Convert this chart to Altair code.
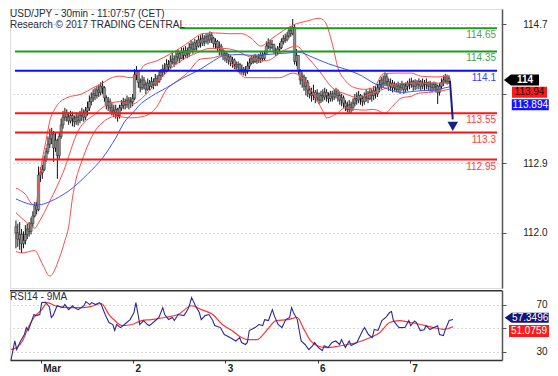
import altair as alt
import pandas as pd

FONT = "Liberation Sans"

# ---------------- values ----------------
# 30-min bars, index 0 = first bar on the left (Feb 28 afternoon)
bar_close = [
    112.00, 111.92, 111.98, 111.86, 111.90, 111.98, 112.05, 112.02, 112.12, 112.22,
    112.35, 112.30, 112.75, 112.78, 112.82, 112.95, 113.05, 113.15, 113.22, 113.28,
    113.10, 113.20, 113.00, 113.25, 113.40, 113.50, 113.55, 113.50, 113.45, 113.52,
    113.48, 113.44, 113.50, 113.46, 113.52, 113.55, 113.50, 113.58, 113.62, 113.70,
    113.75, 113.80, 113.78, 113.85, 113.82, 113.90, 113.88, 113.75, 113.65, 113.70,
    113.62, 113.58, 113.55, 113.60, 113.52, 113.62, 113.65, 113.70, 113.66, 113.72,
    113.68, 113.70, 113.74, 114.05, 114.10, 113.95, 113.88, 113.98, 113.92, 113.86,
    113.94, 113.90, 113.96, 113.92, 114.00, 113.96, 114.04, 114.08, 114.12, 114.10,
    114.18, 114.15, 114.22, 114.25, 114.20, 114.28, 114.32, 114.26, 114.34, 114.30,
    114.36, 114.32, 114.40, 114.44, 114.38, 114.46, 114.42, 114.50, 114.46, 114.52,
    114.48, 114.54, 114.50, 114.56, 114.52, 114.45, 114.48, 114.40, 114.42, 114.36,
    114.30, 114.32, 114.25, 114.28, 114.22, 114.24, 114.18, 114.15, 114.18, 114.10,
    114.12, 114.08, 114.10, 114.16, 114.20, 114.26, 114.22, 114.28, 114.24, 114.26,
    114.30, 114.26, 114.32, 114.42, 114.46, 114.40, 114.44, 114.36, 114.34, 114.38,
    114.40, 114.48, 114.52, 114.50, 114.55, 114.62, 114.58, 114.66, 114.22, 114.30,
    114.10, 113.98, 114.02, 113.90, 113.95, 113.85, 113.80, 113.78, 113.82, 113.75,
    113.80, 113.72, 113.78, 113.76, 113.82, 113.78, 113.74, 113.80, 113.76, 113.80,
    113.84, 113.78, 113.72, 113.75, 113.68, 113.64, 113.60, 113.66, 113.62, 113.68,
    113.74, 113.72, 113.78, 113.74, 113.70, 113.76, 113.80, 113.74, 113.82, 113.78,
    113.84, 113.80, 113.88, 113.92, 113.98, 113.94, 114.02, 113.96, 113.90, 113.94,
    113.88, 113.92, 113.86, 113.90, 113.88, 113.92, 113.86, 113.90, 113.94, 113.92,
    113.96, 113.90, 113.94, 113.92, 113.96, 113.90, 113.94, 113.92, 113.95, 113.90,
    113.93, 113.88, 113.92, 113.90, 113.82, 113.90, 113.95, 113.98, 114.02, 113.96,
    114.00,
]
bar_high = [
    112.16, 112.12, 112.14, 112.05, 112.02, 112.10, 112.12, 112.14, 112.20, 112.28,
    112.40, 112.40, 112.86, 112.85, 112.88, 113.00, 113.10, 113.25, 113.35, 113.36,
    113.32, 113.30, 113.22, 113.30, 113.48, 113.58, 113.62, 113.60, 113.56, 113.58,
    113.57, 113.52, 113.56, 113.55, 113.58, 113.62, 113.60, 113.63, 113.70, 113.78,
    113.82, 113.86, 113.88, 113.90, 113.92, 113.95, 113.97, 113.90, 113.78, 113.76,
    113.74, 113.68, 113.66, 113.66, 113.62, 113.66, 113.72, 113.75, 113.74, 113.78,
    113.76, 113.76, 113.80, 114.12, 114.16, 114.08, 114.00, 114.04, 114.02, 113.96,
    114.00, 113.98, 114.02, 114.00, 114.06, 114.04, 114.10, 114.12, 114.18, 114.20,
    114.25, 114.24, 114.30, 114.33, 114.30, 114.35, 114.38, 114.36, 114.40, 114.40,
    114.42, 114.40, 114.46, 114.50, 114.48, 114.51, 114.50, 114.55, 114.56, 114.58,
    114.56, 114.58, 114.59, 114.61, 114.60, 114.54, 114.52, 114.50, 114.48, 114.45,
    114.38, 114.36, 114.34, 114.32, 114.30, 114.28, 114.26, 114.22, 114.22, 114.20,
    114.18, 114.15, 114.16, 114.22, 114.26, 114.30, 114.30, 114.32, 114.30, 114.32,
    114.35, 114.34, 114.36, 114.48, 114.52, 114.50, 114.50, 114.45, 114.40, 114.42,
    114.46, 114.52, 114.56, 114.58, 114.60, 114.66, 114.68, 114.77, 114.70, 114.38,
    114.30, 114.12, 114.08, 114.05, 114.02, 113.98, 113.90, 113.88, 113.92, 113.85,
    113.86, 113.82, 113.84, 113.86, 113.88, 113.86, 113.82, 113.84, 113.84, 113.86,
    113.88, 113.86, 113.82, 113.80, 113.78, 113.72, 113.70, 113.72, 113.70, 113.74,
    113.80, 113.82, 113.84, 113.80, 113.78, 113.82, 113.86, 113.84, 113.88, 113.86,
    113.90, 113.90, 113.93, 113.98, 114.02, 114.04, 114.08, 114.06, 114.00, 114.00,
    113.98, 113.96, 113.94, 113.96, 113.94, 113.97, 113.94, 113.95, 113.97, 114.00,
    114.01, 113.98, 113.99, 113.98, 114.00, 113.98, 114.00, 113.98, 114.00, 113.96,
    113.97, 113.95, 113.96, 113.95, 113.92, 113.94, 114.00, 114.04, 114.06, 114.05,
    114.04,
]
bar_low = [
    111.80, 111.82, 111.78, 111.74, 111.80, 111.85, 111.92, 111.95, 111.98, 112.08,
    112.20, 112.24, 112.28, 112.66, 112.70, 112.80, 112.92, 113.02, 113.10, 113.15,
    112.92, 113.05, 112.70, 112.95, 113.22, 113.35, 113.45, 113.44, 113.40, 113.42,
    113.38, 113.37, 113.40, 113.39, 113.42, 113.45, 113.44, 113.46, 113.52, 113.58,
    113.65, 113.70, 113.72, 113.74, 113.76, 113.78, 113.80, 113.70, 113.60, 113.58,
    113.56, 113.52, 113.50, 113.48, 113.44, 113.48, 113.58, 113.60, 113.60, 113.62,
    113.60, 113.62, 113.64, 113.72, 113.98, 113.88, 113.82, 113.85, 113.86, 113.80,
    113.84, 113.85, 113.88, 113.86, 113.90, 113.90, 113.94, 113.98, 114.02, 114.05,
    114.08, 114.10, 114.12, 114.18, 114.15, 114.18, 114.22, 114.20, 114.25, 114.24,
    114.27, 114.26, 114.28, 114.34, 114.32, 114.36, 114.36, 114.40, 114.40, 114.42,
    114.42, 114.45, 114.44, 114.46, 114.46, 114.40, 114.38, 114.35, 114.30, 114.30,
    114.24, 114.22, 114.20, 114.18, 114.16, 114.14, 114.12, 114.10, 114.08, 114.06,
    114.05, 114.04, 114.03, 114.06, 114.12, 114.18, 114.19, 114.20, 114.19, 114.20,
    114.20, 114.22, 114.24, 114.32, 114.38, 114.36, 114.38, 114.32, 114.29, 114.30,
    114.34, 114.38, 114.44, 114.46, 114.48, 114.52, 114.54, 114.56, 114.18, 114.16,
    114.05, 113.92, 113.88, 113.84, 113.78, 113.76, 113.74, 113.70, 113.72, 113.68,
    113.70, 113.67, 113.68, 113.70, 113.72, 113.70, 113.68, 113.70, 113.70, 113.72,
    113.74, 113.70, 113.66, 113.64, 113.62, 113.58, 113.56, 113.55, 113.55, 113.58,
    113.64, 113.66, 113.68, 113.66, 113.64, 113.66, 113.70, 113.68, 113.72, 113.70,
    113.72, 113.74, 113.76, 113.82, 113.86, 113.88, 113.90, 113.90, 113.84, 113.84,
    113.82, 113.84, 113.82, 113.82, 113.80, 113.84, 113.80, 113.82, 113.84, 113.86,
    113.88, 113.84, 113.85, 113.86, 113.86, 113.84, 113.86, 113.84, 113.86, 113.84,
    113.83, 113.82, 113.84, 113.82, 113.67, 113.78, 113.86, 113.90, 113.94, 113.92,
    113.93,
]
first_open = 112.08

# Bollinger bands and moving average (bar index, price)
bb_up_idx = [0, 5, 9, 11, 12, 14, 16, 18, 21, 27, 35, 41, 46, 50, 55, 61, 66, 68, 75, 82,
             87, 93, 99, 106, 113, 120, 125, 130, 135, 142, 149, 154, 161, 164, 168, 171,
             175, 180, 185, 190, 195, 202, 210, 215, 223, 230]
bb_up_val = [112.58, 112.50, 112.37, 112.40, 112.62, 112.95, 113.20, 113.45, 113.62, 113.75,
             113.80, 113.88, 113.94, 114.00, 114.03, 114.01, 114.10, 114.17, 114.23, 114.32,
             114.39, 114.49, 114.58, 114.59, 114.58, 114.58, 114.52, 114.42, 114.50, 114.62,
             114.71, 114.74, 114.78, 114.74, 114.45, 114.14, 113.97, 113.88, 113.86, 113.88,
             114.06, 114.07, 114.07, 114.03, 114.02, 114.03]
bb_mid_idx = [0, 6, 10, 12, 18, 25, 33, 42, 47, 55, 62, 68, 79, 89, 96, 103, 110, 117, 125,
              133, 142, 149, 154, 161, 168, 175, 182, 188, 195, 202, 210, 223, 230]
bb_mid_val = [112.26, 112.13, 112.06, 112.13, 112.41, 112.78, 113.32, 113.54, 113.64, 113.70,
              113.67, 113.77, 114.06, 114.25, 114.33, 114.39, 114.39, 114.36, 114.27, 114.23,
              114.36, 114.42, 114.30, 114.10, 113.88, 113.80, 113.75, 113.80, 113.86, 113.93,
              113.94, 113.94, 113.94]
bb_lo_idx = [0, 3, 10, 14, 18, 23, 26, 28, 30, 32, 35, 42, 47, 53, 61, 68, 75, 80, 84, 91,
             98, 105, 110, 117, 122, 133, 140, 147, 152, 158, 163, 165, 170, 175, 180, 185,
             190, 196, 200, 205, 210, 214, 219, 226, 230]
bb_lo_val = [111.76, 111.74, 111.77, 111.60, 111.44, 111.67, 111.90, 112.08, 112.45, 112.70,
             112.93, 113.32, 113.45, 113.51, 113.49, 113.51, 113.64, 113.86, 113.94, 114.07,
             114.25, 114.27, 114.30, 114.12, 114.01, 114.01, 114.01, 114.07, 114.01, 113.80,
             113.58, 113.49, 113.54, 113.62, 113.60, 113.59, 113.60, 113.55, 113.64, 113.75,
             113.77, 113.81, 113.82, 113.84, 113.86]
ma_idx = [0, 11, 21, 30, 38, 46, 53, 58, 62, 65, 72, 80, 89, 98, 105, 111, 119, 125, 133,
          144, 150, 158, 166, 175, 184, 190, 198, 205, 214, 223, 228, 230]
ma_val = [112.44, 112.36, 112.44, 112.58, 112.76, 112.97, 113.23, 113.45, 113.55, 113.64,
          113.77, 113.88, 114.01, 114.12, 114.23, 114.30, 114.31, 114.30, 114.31, 114.33,
          114.34, 114.27, 114.19, 114.12, 114.03, 113.94, 113.86, 113.82, 113.84, 113.85,
          113.88, 113.89]

# support / resistance levels
level_values = [114.65, 114.35, 114.1, 113.55, 113.3, 112.95]
level_labels = ["114.65", "114.35", "114.1", "113.55", "113.3", "112.95"]
level_start = [87, -0.5, -0.5, -0.5, -0.5, -0.5]
level_colors = ["#1e9a1e", "#1e9a1e", "#0a0aff", "#ff1414", "#ff1414", "#ff1414"]
level_text_colors = ["#4d9e4d", "#4d9e4d", "#3c3cff", "#ff3c3c", "#ff3c3c", "#ff3c3c"]

# forecast arrow
arrow_idx = [230.5, 232.0]
arrow_val = [113.97, 113.47]
arrow_head_idx = [232.0]
arrow_head_val = [113.38]

# RSI14 and its 9-period MA (bar index, value)
rsi_idx = [0, 1, 2, 3, 5, 7, 8, 9, 11, 12, 13, 15, 16, 18, 20, 21, 22, 24, 27, 28,
           30, 32, 33, 35, 38, 39, 41, 42, 44, 46, 47, 49, 51, 53, 54, 55, 57, 59, 62, 64,
           65, 66, 67, 69, 71, 72, 74, 77, 79, 80, 82, 84, 85, 87, 90, 92, 93, 94, 96, 98,
           99, 101, 103, 105, 106, 109, 111, 114, 117, 119, 120, 122, 123, 124, 127, 129, 131, 132, 134, 136,
           137, 139, 141, 143, 145, 146, 147, 149, 150, 151, 153, 155, 157, 158, 160, 162, 163, 165, 167, 169,
           171, 172, 174, 176, 177, 180, 183, 184, 186, 188, 189, 191, 193, 195, 197, 198, 199, 201, 202, 205,
           207, 208, 210, 211, 213, 215, 216, 218, 220, 222, 223, 225, 226, 228, 230]
rsi_val = [22.6, 30.8, 39, 31.7, 39, 44.5, 50.4, 47.9, 57.2, 61.5, 60.6, 61.5, 71.7, 72, 68, 59, 61, 69, 67.4, 70,
           65.7, 69, 67.4, 65.7, 69, 72.5, 70, 71.7, 70, 71.7, 70, 61.5, 54.7, 53, 47.9, 53, 50.4, 53, 57.2, 63.2,
           71.7, 63, 53, 56.4, 53, 52.1, 54.7, 59, 67.4, 61.5, 57.2, 59, 56.4, 61.5, 60.6, 65.7, 70, 76, 69, 63.2,
           57.2, 60.6, 61.5, 56.4, 52.1, 50.4, 44.5, 41.9, 39, 41.9, 37.7, 36, 37.7, 47.9, 50.4, 53, 52.1, 57.2, 56.4, 65.7,
           60.6, 53, 50.4, 57.2, 59, 67.4, 63.2, 57.2, 47.9, 39, 36, 31.7, 35.1, 37.7, 33.4, 30.8, 35, 33.4, 37.7, 39,
           36, 40.2, 33.4, 39, 35.1, 37.7, 47.9, 50.4, 44.5, 41.9, 48.7, 48, 56.4, 59, 63.2, 64, 56.4, 52.1, 50.4, 50.5,
           56.4, 52, 56, 54.7, 47.9, 48.5, 52.1, 48.7, 50.4, 52, 44.5, 43.6, 48.7, 56.4, 57.35]
rsi_ma_idx = [0, 3, 6, 9, 12, 16, 19, 23, 30, 37, 42, 47, 51, 54, 58, 63, 68, 73, 80, 87,
              94, 99, 105, 110, 115, 120, 123, 128, 133, 138, 144, 149, 152, 156, 159, 164, 170, 175, 180, 187,
              192, 197, 202, 208, 213, 220, 225, 230]
rsi_ma_val = [31.7, 33.4, 39, 50.4, 59, 65.7, 71.7, 69, 67.4, 67.4, 68.5, 70.9, 61.5, 56.4, 52.1, 53, 56.4, 57.2, 59, 61.5,
              69, 65.7, 61.5, 53, 47.9, 41.9, 40.2, 40.2, 47.9, 56.4, 57.2, 59, 50.4, 39, 35.1, 33.4, 34.5, 36, 37.7, 41.9,
              46.2, 54.7, 56.4, 54.7, 53, 50.4, 48.9, 51.08]

day_ticks = [15.5, 63.5, 111.5, 159.5, 207.5]
day_labels = ["Mar", "2", "3", "6", "7"]
price_ticks = [112.0, 112.9, 113.8, 114.7]
price_hidden = 113.8
rsi_ticks = [30, 50, 70]

title_lines = ["USD/JPY - 30min - 11:07:57 (CET)", "Research \u00a9 2017 TRADING CENTRAL"]
rsi_title = "RSI14 - 9MA"

# ---------------- layout ----------------
W = 492
H_PRICE = 279
H_RSI = 70
X_DOM = [-0.5, 255.5]
P_DOM = [111.286, 114.9]
R_DOM = [22.8, 82.4]

xs = alt.Scale(domain=X_DOM, nice=False, zero=False)
ps = alt.Scale(domain=P_DOM, nice=False, zero=False)
rs = alt.Scale(domain=R_DOM, nice=False, zero=False)

price_label_expr = "datum.value == %s ? '' : format(datum.value, '.1f')" % price_hidden
price_axis = alt.Axis(orient="right", values=price_ticks, labelExpr=price_label_expr,
                      grid=True, gridDash=[1, 3], gridColor="#b4b4b4", gridWidth=1,
                      domainColor="#555555", domainWidth=1.5, tickColor="#555555", tickSize=4,
                      labelAlign="right", labelPadding=41, labelFont=FONT, labelFontSize=10,
                      labelColor="#222222", title=None)
rsi_axis = alt.Axis(orient="right", values=rsi_ticks,
                    labelExpr="datum.value == 50 ? '' : format(datum.value, 'd')",
                    grid=True, gridDash=[1, 3], gridColor="#b4b4b4", gridWidth=1,
                    domainColor="#555555", domainWidth=1.5, tickColor="#555555", tickSize=4,
                    labelAlign="right", labelPadding=41, labelFont=FONT, labelFontSize=10,
                    labelColor="#222222", title=None)
day_expr = "".join("datum.value == %s ? '%s' : " % (t, l) for t, l in zip(day_ticks, day_labels)) + "''"
x_axis = alt.Axis(values=day_ticks, labelExpr=day_expr, grid=False, tickSize=3,
                  tickColor="#333333", domainColor="#333333", domainWidth=1.5,
                  labelAlign="left", labelBaseline="top", labelOffset=2, labelPadding=0,
                  labelFont=FONT, labelFontSize=10, labelFontWeight="bold", labelColor="#222222",
                  title=None)


def PX(f):
    return alt.X(f"{f}:Q", scale=xs, axis=None)


def PY(f):
    return alt.Y(f"{f}:Q", scale=ps, axis=price_axis, title=None)


def RX(f):
    return alt.X(f"{f}:Q", scale=xs, axis=x_axis, title=None)


def RY(f):
    return alt.Y(f"{f}:Q", scale=rs, axis=rsi_axis, title=None)


one = pd.DataFrame({"k": [0]})

# candles
candles = pd.DataFrame({"i": list(range(len(bar_close))), "c": bar_close, "h": bar_high, "l": bar_low})
candles["o"] = [first_open] + bar_close[:-1]
candles["h"] = candles[["h", "o", "c"]].max(axis=1)
candles["l"] = candles[["l", "o", "c"]].min(axis=1)

wicks = alt.Chart(candles).mark_rule(color="#111111", strokeWidth=1).encode(
    x=PX("i"), y=PY("l"), y2=alt.Y2("h"))
bodies = alt.Chart(candles).mark_bar(size=2.4, fill="#8c8c8c", stroke="#1a1a1a", strokeWidth=0.4).encode(
    x=PX("i"), y=PY("o"), y2=alt.Y2("c"))


def line_layer(idx, val, color, width):
    d = pd.DataFrame({"i": idx, "p": val})
    return alt.Chart(d).mark_line(color=color, strokeWidth=width, interpolate="monotone").encode(
        x=PX("i"), y=PY("p"))


bands = (line_layer(bb_up_idx, bb_up_val, "#ff4a4a", 1)
         + line_layer(bb_mid_idx, bb_mid_val, "#ff4a4a", 1)
         + line_layer(bb_lo_idx, bb_lo_val, "#ff4a4a", 1)
         + line_layer(ma_idx, ma_val, "#3a55ff", 1))

levels = pd.DataFrame({"p": level_values, "lab": level_labels, "x0": level_start,
                       "x1": [X_DOM[1]] * len(level_values), "col": level_colors,
                       "tcol": level_text_colors})
level_rules = alt.Chart(levels).mark_rule(strokeWidth=2).encode(
    x=PX("x0"), x2=alt.X2("x1"), y=PY("p"), color=alt.Color("col:N", scale=None))
level_text = alt.Chart(levels).mark_text(align="right", baseline="top", dx=-1, dy=2,
                                         font=FONT, fontSize=10).encode(
    x=PX("x1"), y=PY("p"), text="lab:N", color=alt.Color("tcol:N", scale=None))

NAVY = "#16207e"
arrow_df = pd.DataFrame({"i": arrow_idx, "p": arrow_val})
arrow_line = alt.Chart(arrow_df).mark_line(color=NAVY, strokeWidth=2).encode(x=PX("i"), y=PY("p"))
head_df = pd.DataFrame({"i": arrow_head_idx, "p": arrow_head_val})
arrow_head = alt.Chart(head_df).mark_point(shape="triangle-down", filled=True, size=110,
                                           color=NAVY, opacity=1).encode(x=PX("i"), y=PY("p"))

titles = []
for t, yy in zip(title_lines, [0, 11]):
    titles.append(alt.Chart(one).mark_text(align="left", baseline="top", font=FONT,
                                           fontSize=10, color="#2a2a3c").encode(
        x=alt.value(0), y=alt.value(yy), text=alt.value(t)))


def tag(value, label, fill, tcolor, cx, w, h, tipw, off, yenc, bold=False):
    hh = h / w
    if tipw > 0:
        xl = -1 + 2 * tipw / w
        path = f"M-1,0L{xl:.3f},{-hh:.3f}L1,{-hh:.3f}L1,{hh:.3f}L{xl:.3f},{hh:.3f}Z"
        tx = cx + (xl + 1) * w / 4
    else:
        path = f"M-1,{-hh:.3f}L1,{-hh:.3f}L1,{hh:.3f}L-1,{hh:.3f}Z"
        tx = cx
    d = pd.DataFrame({"v": [value]})
    box = alt.Chart(d).mark_point(shape=path, filled=True, size=w * w, color=fill, opacity=1,
                                  strokeWidth=0, yOffset=off).encode(x=alt.value(cx), y=yenc("v"))
    txt = alt.Chart(d).mark_text(align="center", baseline="middle", font=FONT, fontSize=10,
                                 fontWeight="bold" if bold else "normal", color=tcolor,
                                 yOffset=off).encode(x=alt.value(tx), y=yenc("v"), text=alt.value(label))
    return box + txt


price_tags = (tag(114.0, "114", "#000000", "#ffffff", 511.5, 35, 11, 7, 1.5, PY, bold=True)
              + tag(113.94, "113.94", "#ff1a1a", "#2a0000", 519.5, 35, 11, 0, 9.2, PY)
              + tag(113.894, "113.894", "#1414ff", "#ffffff", 520.3, 37, 11, 0, 18.1, PY))

price = alt.layer(
    wicks, bodies, bands, level_rules, level_text, arrow_line, arrow_head,
    *titles, price_tags,
).properties(width=W, height=H_PRICE)

# RSI panel
rsi_df = pd.DataFrame({"i": rsi_idx, "r": rsi_val})
rsi_ma_df = pd.DataFrame({"i": rsi_ma_idx, "r": rsi_ma_val})
rsi_ma_line = alt.Chart(rsi_ma_df).mark_line(color="#ff3434", strokeWidth=1.2, interpolate="monotone").encode(
    x=RX("i"), y=RY("r"))
rsi_line = alt.Chart(rsi_df).mark_line(color="#2a2a96", strokeWidth=1.1).encode(x=RX("i"), y=RY("r"))
rsi_top = alt.Chart(one).mark_rule(color="#333333", strokeWidth=1.5).encode(y=alt.value(0.75))
rsi_text = alt.Chart(one).mark_text(align="left", baseline="top", font=FONT, fontSize=10,
                                    color="#2a2a3c").encode(x=alt.value(0), y=alt.value(2),
                                                            text=alt.value(rsi_title))
rsi_tags = (tag(57.3496, "57.3496", "#14147a", "#ffffff", 516.7, 44, 10, 7, -1.6, RY)
            + tag(51.0759, "51.0759", "#ff1a1a", "#ffffff", 519, 40, 12, 0, 4.3, RY))

rsi = alt.layer(rsi_ma_line, rsi_line, rsi_top, rsi_text, rsi_tags).properties(width=W, height=H_RSI)

chart = alt.vconcat(price, rsi, spacing=0).properties(
    padding={"left": 0, "top": 0, "right": 0, "bottom": 0}
).configure_view(strokeWidth=0).configure_concat(spacing=0).configure(background="#ffffff")

chart.save("out.html", embed_options={"renderer": "svg", "actions": False})
